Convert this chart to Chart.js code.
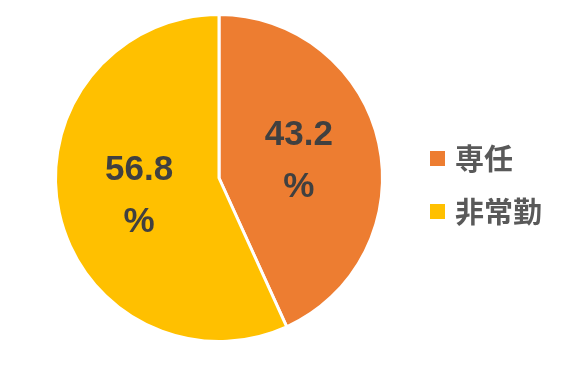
<!DOCTYPE html>
<html>
<head>
<meta charset="utf-8">
<script src="https://cdn.jsdelivr.net/npm/chart.js@4.4.0/dist/chart.umd.min.js"></script>
<style>
  html, body { margin: 0; padding: 0; background: #fff; }
  #wrap { position: relative; width: 571px; height: 371px; }
  #legend { position: absolute; left: 430px; top: 0; font-family: "Noto Sans CJK JP", sans-serif; color: #595959; font-weight: bold; }
  .item { position: absolute; left: 0; white-space: nowrap; height: 40px; line-height: 40px; font-size: 29px; }
  .item span.box { position: absolute; left: 0; top: 13px; width: 15px; height: 15px; }
  .item span.txt { position: absolute; left: 25px; top: -1px; }
</style>
</head>
<body>
<div id="wrap">
  <canvas id="chart" width="571" height="371"></canvas>
  <div id="legend"></div>
</div>
<script>
const categories = ['専任', '非常勤'];
const values = [43.2, 56.8];
const colors = ['#ED7D31', '#FFC000'];

// labels inside slices: value on one line, % on the next
const sliceLabels = {
  id: 'sliceLabels',
  afterDatasetsDraw(chart) {
    const ctx = chart.ctx;
    const meta = chart.getDatasetMeta(0);
    ctx.save();
    ctx.font = 'bold 35px "Liberation Sans", Arial, sans-serif';
    ctx.fillStyle = '#404040';
    ctx.textAlign = 'center';
    ctx.textBaseline = 'middle';
    meta.data.forEach((arc, i) => {
      const p = arc.getCenterPoint();
      ctx.fillText(values[i].toFixed(1), p.x, p.y - 25);
      ctx.fillText('%', p.x, p.y + 27);
    });
    ctx.restore();
  }
};

let chart = new Chart(document.getElementById('chart'), {
  type: 'pie',
  data: {
    labels: categories,
    datasets: [{
      data: values,
      backgroundColor: colors,
      borderColor: '#ffffff',
      borderWidth: 3
    }]
  },
  options: {
    responsive: false,
    animation: false,
    layout: { padding: { left: 54, right: 187, top: 13, bottom: 28 } },
    plugins: {
      legend: { display: false },
      tooltip: { enabled: false }
    }
  },
  plugins: [sliceLabels]
});

let legendTops = [138, 191];
categories.forEach((c, i) => {
  let markup = '<div class="item" style="top:' + legendTops[i] + 'px">' +
    '<span class="box" style="background:' + colors[i] + '"></span>' +
    '<span class="txt">' + c + '</span></div>';
  document.getElementById('legend').insertAdjacentHTML('beforeend', markup);
});
</script>
</body>
</html>
